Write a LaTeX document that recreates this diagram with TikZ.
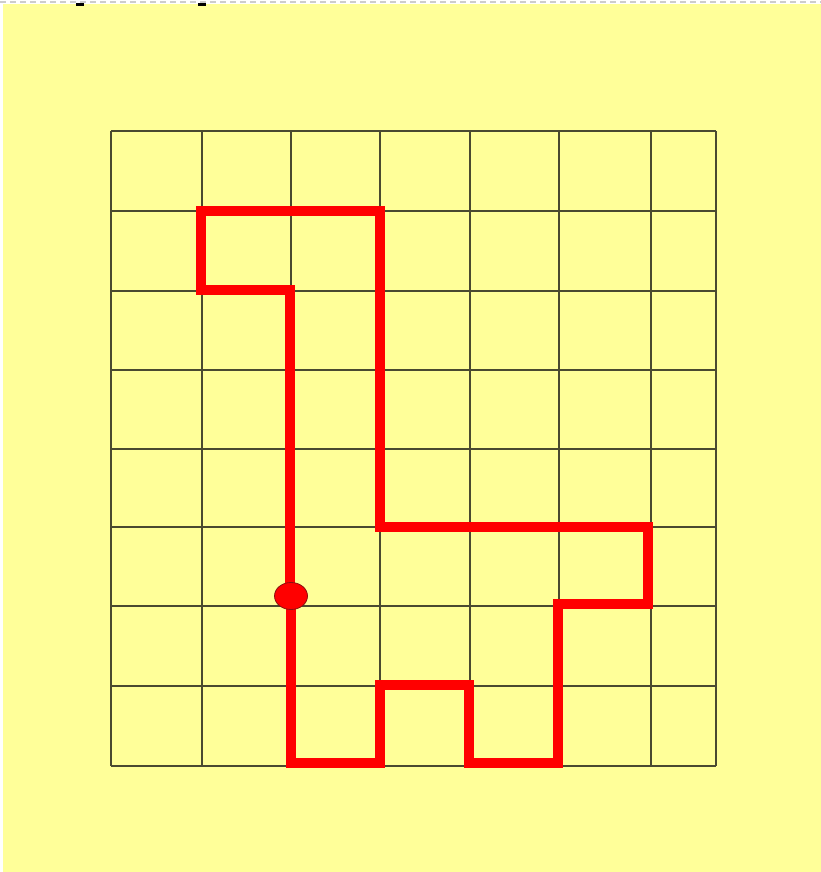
\documentclass[tikz,border=0pt]{standalone}
\definecolor{bgyellow}{HTML}{FFFF99}
\definecolor{gridcol}{HTML}{4A4A30}
\definecolor{pathred}{HTML}{FF0000}
\definecolor{dotedge}{HTML}{8A1010}
\tikzset{
  gridline/.style={draw=gridcol, line width=1.3pt},
  redpath/.style={draw=pathred, line width=10.5pt, line join=miter, line cap=rect},
  startdot/.style={ellipse, fill=pathred, draw=dotedge, line width=0.8pt, minimum width=33pt, minimum height=27pt, inner sep=0pt}
}
\usetikzlibrary{shapes.geometric}
\begin{document}
\begin{tikzpicture}[x=1pt,y=-1pt]
\useasboundingbox (0,0) rectangle (821,872);
\fill[white] (0,0) rectangle (821,872);
\draw[gray!40, line width=2pt, dash pattern=on 6pt off 4pt] (0,2) -- (821,2);
\fill[bgyellow] (3,4) rectangle (821,872);
\fill[black] (76,3) rectangle (84,6);
\fill[black] (198,3) rectangle (206,6);
% grid
\foreach \x in {111,202,291,380,470,559,651,716}
  \draw[gridline] (\x,131) -- (\x,766);
\foreach \y in {131,211,291,370,449,527,606,686,766}
  \draw[gridline] (111,\y) -- (716,\y);
% red path
\coordinate (s) at (291,596);
\draw[redpath] (s) -- (291,763) -- (380,763) -- (380,685) -- (469,685) -- (469,763)
  -- (558,763) -- (558,604) -- (648,604) -- (648,527) -- (380,527) -- (380,211)
  -- (201,211) -- (201,290) -- (290,290) -- (290,596);
\node[startdot] (dot) at (s) {};
\end{tikzpicture}
\end{document}
